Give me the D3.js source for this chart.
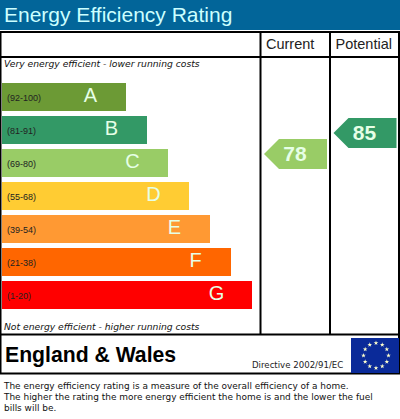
<!DOCTYPE html>
<html lang="en">
  <head>
    <meta charset="UTF-8" />
    <title>Energy Efficiency Rating</title>
    <script src="https://d3js.org/d3.v7.min.js"></script>
    <style>
      html, body { margin: 0; padding: 0; background: #fff; }
      svg { display: block; }
      text { font-family: "Liberation Sans", Arial, sans-serif; }
      text.verdana { font-family: "DejaVu Sans", sans-serif; }
    </style>
  </head>
  <body>
    <svg width="400" height="419"></svg>
    <script>
      const bands = ["A", "B", "C", "D", "E", "F", "G"];
      const ranges = ["(92-100)", "(81-91)", "(69-80)", "(55-68)", "(39-54)", "(21-38)", "(1-20)"];
      const bandColors = ["#6c9a35", "#339966", "#99cc66", "#ffcc33", "#ff9933", "#ff6600", "#ff0000"];
      const barLengths = [1, 2, 3, 4, 5, 6, 7];
      const scoreNames = ["Current", "Potential"];
      const scores = [78, 85];
      const scoreColors = ["#99cc66", "#339966"];
      const footerLines = [
        "The energy efficiency rating is a measure of the overall efficiency of a home.",
        "The higher the rating the more energy efficient the home is and the lower the fuel",
        "bills will be.",
      ];

      const svg = d3.select("svg");

      // header
      svg.append("rect").attr("width", 400).attr("height", 30).attr("fill", "#026599");
      svg.append("text").text("Energy Efficiency Rating")
        .attr("x", 4).attr("y", 22).attr("font-size", 21).attr("fill", "#ccffff");

      // frame
      const frameLines = [
        [0, 32, 400, 32], [0, 57, 400, 57], [0, 334.5, 400, 334.5], [0, 373.5, 400, 373.5],
        [0.5, 32, 0.5, 374], [399, 32, 399, 374], [260.5, 32, 260.5, 334.5], [330, 32, 330, 334.5],
      ];
      svg.append("g").selectAll("line").data(frameLines).join("line")
        .attr("x1", (d) => d[0]).attr("y1", (d) => d[1])
        .attr("x2", (d) => d[2]).attr("y2", (d) => d[3])
        .attr("stroke", "#000").attr("stroke-width", 2);

      const X = d3.scaleLinear().domain([1, 7]).range([126, 252]);
      const Y = d3.scaleBand().domain(bands).range([83, 309]).paddingInner(5 / 33).paddingOuter(0);

      const rows = svg.append("g").selectAll("g").data(bands).join("g");
      rows.append("rect")
        .attr("x", 2).attr("y", (d) => Y(d))
        .attr("width", (d, i) => X(barLengths[i]) - 2)
        .attr("height", Y.bandwidth())
        .attr("fill", (d, i) => bandColors[i]);
      rows.append("text").text((d, i) => ranges[i])
        .attr("x", 7).attr("y", (d) => Y(d) + Y.bandwidth() / 2 + 3.5)
        .attr("font-size", 9).attr("fill", "#222");
      rows.append("text").text((d) => d)
        .attr("x", (d, i) => X(barLengths[i]) - 35.5)
        .attr("y", (d) => Y(d) + Y.bandwidth() / 2 + 5)
        .attr("text-anchor", "middle")
        .attr("font-size", 20).attr("fill", "#e6ffe6");

      // captions
      svg.append("text").attr("class", "verdana").text("Very energy efficient - lower running costs")
        .attr("x", 4).attr("y", 67).attr("font-size", 9.2).attr("font-style", "italic").attr("fill", "#111");
      svg.append("text").attr("class", "verdana").text("Not energy efficient - higher running costs")
        .attr("x", 4).attr("y", 330).attr("font-size", 9.2).attr("font-style", "italic").attr("fill", "#111");

      // column heads
      const colX = d3.scaleBand().domain(scoreNames).range([261, 400]);
      svg.append("g").selectAll("text").data(scoreNames).join("text").text((d) => d)
        .attr("x", (d) => colX(d) + 5)
        .attr("y", 49)
        .attr("font-size", 14.5).attr("fill", "#222");

      // score arrows
      const scoreY = d3.scaleLinear().domain([78, 85]).range([154, 133]);
      const arrows = svg.append("g").selectAll("g").data(scoreNames).join("g")
        .attr("transform", (d, i) => `translate(${colX(d) + 3},${scoreY(scores[i])})`);
      arrows.append("path")
        .attr("d", d3.line()([[0, 0], [15, -15], [63, -15], [63, 15], [15, 15]]))
        .attr("fill", (d, i) => scoreColors[i]);
      arrows.append("text").text((d, i) => scores[i])
        .attr("x", 31).attr("y", 7).attr("text-anchor", "middle")
        .attr("font-size", 21).attr("font-weight", "bold").attr("fill", "#e6ffe6");

      // bottom strip
      svg.append("text").text("England & Wales")
        .attr("x", 5).attr("y", 362).attr("font-size", 21.2).attr("font-weight", "bold").attr("fill", "#000");
      svg.append("text").attr("class", "verdana").text("Directive 2002/91/EC")
        .attr("x", 252).attr("y", 368).attr("font-size", 8.6).attr("fill", "#222");

      // flag
      const starIndex = d3.range(12);
      const angle = d3.scaleLinear().domain([0, 12]).range([0, 2 * Math.PI]);
      svg.append("rect").attr("x", 351).attr("y", 338).attr("width", 48).attr("height", 35).attr("fill", "#0a2a99");
      svg.append("g").attr("transform", "translate(376,355.5)")
        .selectAll("path").data(starIndex).join("path")
        .attr("d", d3.symbol(d3.symbolStar, 7))
        .attr("transform", (d) => `translate(${12.5 * Math.sin(angle(d))},${-12.5 * Math.cos(angle(d))})`)
        .attr("fill", "#ffffcc");

      // footer
      svg.append("g").selectAll("text").data(footerLines).join("text").attr("class", "verdana")
        .text((d) => d)
        .attr("x", 4).attr("y", (d, i) => 389 + i * 11)
        .attr("font-size", 8.95).attr("fill", "#111");
    </script>
  </body>
</html>
